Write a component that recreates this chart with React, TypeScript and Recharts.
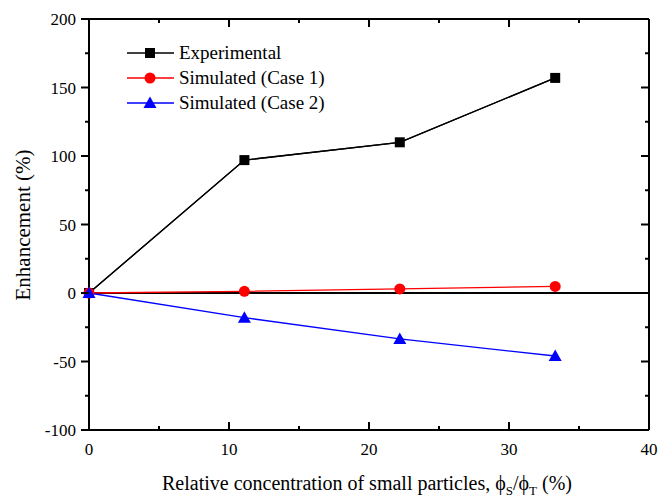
import { LineChart, Line, XAxis, YAxis, ReferenceLine } from 'recharts';

const concentration = [0, 11.1, 22.2, 33.3];
const experimental = [0, 97, 110, 157];
const simulatedCase1 = [0, 1.2, 3, 4.8];
const simulatedCase2 = [0, -18, -33.5, -46];

const xTicks = [0, 5, 10, 15, 20, 25, 30, 35, 40];
const yTicks = [-100, -75, -50, -25, 0, 25, 50, 75, 100, 125, 150, 175, 200];

const legendItems = [
  { name: 'Experimental', color: '#000000', shape: 'square' },
  { name: 'Simulated (Case 1)', color: '#ff0000', shape: 'circle' },
  { name: 'Simulated (Case 2)', color: '#0000ff', shape: 'triangle' },
];

const data = concentration.map((x, i) => ({
  x,
  exp: experimental[i],
  case1: simulatedCase1[i],
  case2: simulatedCase2[i],
}));

const FONT = 'Liberation Serif';

function marker(shape: string, color: string, cx: number, cy: number, key?: any) {
  if (cx == null || cy == null) return <g key={key} />;
  if (shape === 'square') return <rect key={key} x={cx - 5} y={cy - 5} width={10} height={10} fill={color} />;
  if (shape === 'circle') return <circle key={key} cx={cx} cy={cy} r={5.5} fill={color} />;
  return <polygon key={key} points={`${cx},${cy - 6.5} ${cx + 6.5},${cy + 5} ${cx - 6.5},${cy + 5}`} fill={color} />;
}

// ticks point into the plot on bottom/top/right, out on the left (Origin style)
function BottomTick({ x, y, payload }: any) {
  const major = payload.value % 10 === 0;
  return (
    <g>
      <line x1={x} y1={y} x2={x} y2={y - (major ? 8 : 4)} stroke="#000" strokeWidth={2} />
      {major && (
        <text x={x} y={y + 25} textAnchor="middle" fontSize={17} fontFamily={FONT} fill="#000">
          {payload.value}
        </text>
      )}
    </g>
  );
}

function TopTick({ x, y, payload }: any) {
  const major = payload.value % 10 === 0;
  return <line x1={x} y1={y} x2={x} y2={y + (major ? 8 : 4)} stroke="#000" strokeWidth={2} />;
}

function LeftTick({ x, y, payload }: any) {
  const major = payload.value % 50 === 0;
  return (
    <g>
      <line x1={x} y1={y} x2={x - (major ? 8 : 4)} y2={y} stroke="#000" strokeWidth={2} />
      {major && (
        <text x={x - 13} y={y + 6} textAnchor="end" fontSize={17} fontFamily={FONT} fill="#000">
          {payload.value}
        </text>
      )}
    </g>
  );
}

function RightTick({ x, y, payload }: any) {
  const major = payload.value % 50 === 0;
  return <line x1={x} y1={y} x2={x - (major ? 8 : 4)} y2={y} stroke="#000" strokeWidth={2} />;
}

function LegendBox() {
  return (
    <div style={{ position: 'absolute', left: 127, top: 40, fontFamily: FONT, fontSize: 19, lineHeight: 'normal' }}>
      {legendItems.map((s) => (
        <div key={s.name} style={{ display: 'flex', alignItems: 'center', height: 25 }}>
          <svg width={52} height={20}>
            <line x1={0} y1={10} x2={47} y2={10} stroke={s.color} strokeWidth={1.3} />
            {marker(s.shape, s.color, 23, 10)}
          </svg>
          <span>{s.name}</span>
        </div>
      ))}
    </div>
  );
}

export default function App() {
  return (
    <div style={{ position: 'absolute', left: 0, top: 0, width: 666 }}>
      <LineChart width={666} height={497} data={data} margin={{ top: 0, right: 0, bottom: 0, left: 0 }}>
        <XAxis
          dataKey="x"
          type="number"
          domain={[0, 40]}
          ticks={xTicks}
          height={67}
          stroke="#000"
          strokeWidth={2}
          tickLine={false}
          tickSize={0}
          tickMargin={0}
          tick={<BottomTick />}
          interval={0}
          label={{
            value: 'x',
            content: () => (
              <text x={367} y={490} textAnchor="middle" fontSize={20} fontFamily={FONT} fill="#000">
                Relative concentration of small particles, ϕ
                <tspan dy={5} fontSize={13}>S</tspan>
                <tspan dy={-5}>/ϕ</tspan>
                <tspan dy={5} fontSize={13}>T</tspan>
                <tspan dy={-5}> (%)</tspan>
              </text>
            ),
          }}
        />
        <XAxis
          xAxisId="top"
          orientation="top"
          dataKey="x"
          type="number"
          domain={[0, 40]}
          ticks={xTicks}
          height={19}
          stroke="#000"
          tickLine={false}
          tickSize={0}
          tickMargin={0}
          tick={<TopTick />}
          interval={0}
        />
        <YAxis
          type="number"
          domain={[-100, 200]}
          ticks={yTicks}
          width={89}
          stroke="#000"
          strokeWidth={2}
          tickLine={false}
          tickSize={0}
          tickMargin={0}
          tick={<LeftTick />}
          interval={0}
          label={{
            value: 'y',
            content: () => (
              <text
                x={30}
                y={225}
                textAnchor="middle"
                fontSize={21}
                fontFamily={FONT}
                fill="#000"
                transform="rotate(-90 30 225)"
              >
                Enhancement (%)
              </text>
            ),
          }}
        />
        <YAxis
          yAxisId="right"
          orientation="right"
          type="number"
          domain={[-100, 200]}
          ticks={yTicks}
          width={17}
          stroke="#000"
          tickLine={false}
          tickSize={0}
          tickMargin={0}
          tick={<RightTick />}
          interval={0}
        />
        <ReferenceLine y={0} stroke="#000" strokeWidth={2} />
        <ReferenceLine x={40} stroke="#000" strokeWidth={2} ifOverflow="visible" />
        <ReferenceLine y={200} stroke="#000" strokeWidth={2} ifOverflow="visible" />
        {/* experimental series again on the frame axes (same domains) so top/right axes are drawn */}
        <Line
          xAxisId="top"
          yAxisId="right"
          dataKey="exp"
          stroke="#000"
          strokeWidth={1.3}
          dot={false}
          activeDot={false}
          isAnimationActive={false}
        />
        <Line
          dataKey="exp"
          name="Experimental"
          stroke="#000000"
          strokeWidth={1.3}
          isAnimationActive={false}
          activeDot={false}
          dot={(p: any) => marker('square', '#000000', p.cx, p.cy, `exp-${p.index}`)}
        />
        <Line
          dataKey="case1"
          name="Simulated (Case 1)"
          stroke="#ff0000"
          strokeWidth={1.3}
          isAnimationActive={false}
          activeDot={false}
          dot={(p: any) => marker('circle', '#ff0000', p.cx, p.cy, `c1-${p.index}`)}
        />
        <Line
          dataKey="case2"
          name="Simulated (Case 2)"
          stroke="#0000ff"
          strokeWidth={1.3}
          isAnimationActive={false}
          activeDot={false}
          dot={(p: any) => marker('triangle', '#0000ff', p.cx, p.cy, `c2-${p.index}`)}
        />
      </LineChart>
      <LegendBox />
    </div>
  );
}
